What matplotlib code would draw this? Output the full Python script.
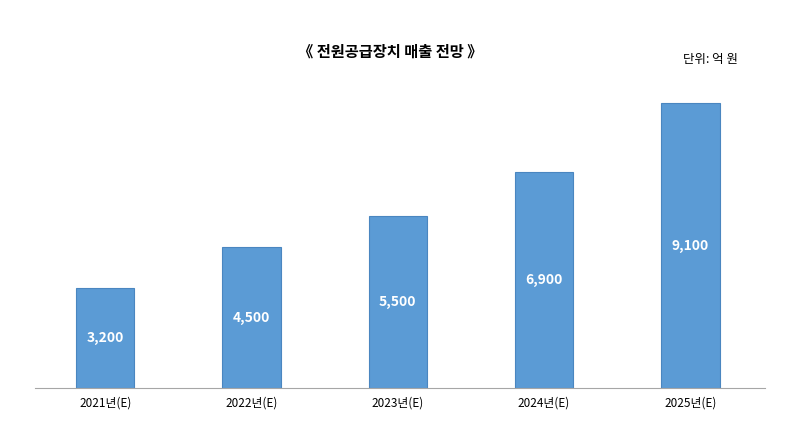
import matplotlib.pyplot as plt

plt.rcParams['font.family'] = ['Noto Sans CJK KR', 'DejaVu Sans']

years = ["2021년(E)", "2022년(E)", "2023년(E)", "2024년(E)", "2025년(E)"]
sales = [3200, 4500, 5500, 6900, 9100]
labels = ["3,200", "4,500", "5,500", "6,900", "9,100"]

fig = plt.figure(figsize=(7.95, 4.47), dpi=100)
ax = fig.add_axes([35 / 795, 59 / 447, 730 / 795, 313 / 447])

x = range(len(years))
bars = ax.bar(x, sales, width=0.40, color="#5B9BD5", edgecolor="#4A86C0", linewidth=0.8)
for b, lab in zip(bars, labels):
    ax.text(b.get_x() + b.get_width() / 2, b.get_height() / 2, lab,
            ha="center", va="center", color="white", fontsize=10, fontweight="bold")

ax.set_xlim(-0.48, 4.51)
ax.set_ylim(0, 10000)
ax.set_xticks(list(x))
ax.set_xticklabels(years, fontsize=8.5)
ax.set_yticks([])
ax.tick_params(axis="x", length=0, pad=6)
for s in ["top", "right", "left"]:
    ax.spines[s].set_visible(False)
ax.spines["bottom"].set_color("#A6A6A6")

fig.text(390 / 795, 1 - 52 / 447, "《 전원공급장치 매출 전망 》", ha="center", va="center",
         fontsize=11, fontweight="bold")
fig.text(710 / 795, 1 - 60 / 447, "단위: 억 원", ha="center", va="center", fontsize=9)

fig.savefig("out.png", dpi=100, facecolor="white")
